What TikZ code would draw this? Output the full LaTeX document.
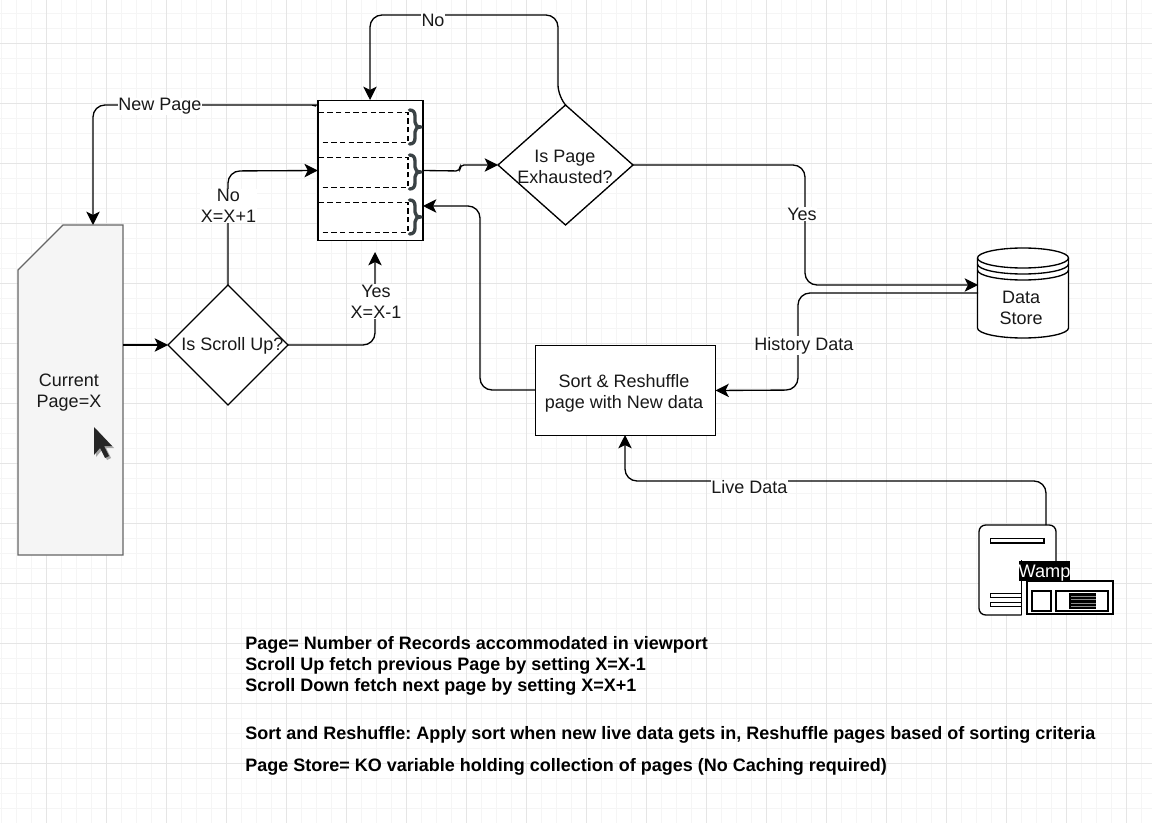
\documentclass[tikz,border=0pt]{standalone}
\usepackage{fontspec}
\setmainfont{Liberation Sans}
\usetikzlibrary{shapes.geometric,arrows.meta}
\definecolor{bracegrey}{HTML}{3A4245}
\frenchspacing
\tikzset{
  x=0.75pt,y=-0.75pt,
  gridminor/.style={draw=black!4,line width=0.7pt},
  gridmajor/.style={draw=black!10,line width=0.7pt},
  box/.style={draw=black,line width=1.05pt,fill=white,inner sep=0pt,outer sep=0pt},
  dashbox/.style={draw=black,line width=0.8pt,dash pattern=on 4pt off 2.5pt},
  dia/.style={diamond,draw=black,line width=1pt,fill=white,inner sep=0pt,outer sep=0pt,aspect=1},
  txt/.style={font=\fontsize{13.5}{15.9}\selectfont,align=center,inner sep=0pt,text=black!90},
  lab/.style={txt,fill=white,inner xsep=0.5pt,inner ysep=0.5pt},
  note/.style={font=\fontsize{13.5}{15.9}\selectfont\bfseries,anchor=west,inner sep=0pt,text=black},
  conn/.style={draw=black,line width=1pt,rounded corners=9pt,-{Stealth[length=10pt,width=10pt,inset=2.5pt]}},
  iconline/.style={draw=black,line width=1pt},
  bracepic/.pic={\draw[draw=bracegrey,line width=2.5pt,line join=round,line cap=round]
    (-6.5,-17) .. controls (-3,-17) and (-1,-15) .. (-1,-11) -- (-1,-5) .. controls (-1,-2) and (1,0) .. (5,0)
    .. controls (1,0) and (-1,2) .. (-1,5) -- (-1,11) .. controls (-1,15) and (-3,17) .. (-6.5,17);},
}
\begin{document}
\begin{tikzpicture}
\useasboundingbox (0,0) rectangle (1152,823);
\fill[white] (0,0) rectangle (1152,823);
% grid
\foreach \g in {1,16,...,1141}{\draw[gridminor] (\g,0) -- (\g,823);}
\foreach \g in {13,28,...,823}{\draw[gridminor] (0,\g) -- (1152,\g);}
\foreach \g in {46,106,...,1141}{\draw[gridmajor] (\g,0) -- (\g,823);}
\foreach \g in {43,103,...,823}{\draw[gridmajor] (0,\g) -- (1152,\g);}
% current page
\draw[draw=black!60,fill=black!4,line width=1pt] (18,270) -- (63,225) -- (123,225) -- (123,555) -- (18,555) -- cycle;
\node[minimum width=78.75pt,minimum height=247.5pt,inner sep=0pt,outer sep=0pt] (cur) at (70.5,390) {};
\node[txt] (curtxt) at (69,392.5) {Current\\Page=X};
% cursor
\fill[black!35] (96,429) -- (96,457) -- (102,450) -- (107,460) -- (111,458) -- (106,448) -- (114,448) -- cycle;
\fill[black!85] (94,427) -- (94,455) -- (100,448) -- (105,458) -- (109,456) -- (104,446) -- (112,446) -- cycle;
% store
\node[box,minimum width=79pt,minimum height=105pt] (store) at (370.5,170.5) {};
\draw[dashbox] (318,112.5) rectangle (408,142.5);
\draw[dashbox] (318,157.5) rectangle (408,187.5);
\draw[dashbox] (318,202.5) rectangle (408,232.5);
\pic at (416,127) {bracepic};
\pic at (416,172) {bracepic};
\pic at (416,217) {bracepic};
% diamonds
\node[dia,minimum width=90pt,minimum height=90pt] (scroll) at (228,345) {};
\node[txt] (scrolltxt) at (232.5,346) {Is Scroll Up?};
\node[dia,aspect=1.125,minimum width=101.25pt,minimum height=90pt] (exh) at (565.5,165) {};
\node[txt] (exhtxt) at (565,166.5) {Is Page\\Exhausted?};
% sort
\node[box,minimum width=135pt,minimum height=67.5pt] (sort) at (625.5,390.5) {};
\node[txt] (sorttxt) at (624,393) {Sort \& Reshuffle\\page with New data};
% data store
\node[minimum width=68pt,minimum height=67.5pt,inner sep=0pt,outer sep=0pt] (data) at (1023,293) {};
\draw[iconline,fill=white] (977.5,258) .. controls (977.5,252.5) and (997.9,248) .. (1023,248)
  .. controls (1048.1,248) and (1068.5,252.5) .. (1068.5,258) -- (1068.5,328)
  .. controls (1068.5,333.5) and (1048.1,338) .. (1023,338)
  .. controls (997.9,338) and (977.5,333.5) .. (977.5,328) -- cycle;
\foreach \g in {258,264,270}{
  \draw[iconline] (977.5,\g) .. controls (977.5,\g+5.5) and (997.9,\g+10) .. (1023,\g+10)
    .. controls (1048.1,\g+10) and (1068.5,\g+5.5) .. (1068.5,\g);}
\node[txt] (datatxt) at (1021,307.5) {Data\\Store};
% wamp icon
\draw[iconline,fill=white,rounded corners=5pt] (1021.5,615) -- (979,615) -- (979,525) -- (1056,525) -- (1056,585);
\draw[iconline] (1021.5,615) -- (1021.5,560);
\draw[iconline] (990.5,538.5) rectangle (1044,543);
\draw[iconline] (990.5,593.5) rectangle (1021.5,597.5);
\draw[iconline] (990.5,602.5) rectangle (1021.5,606.5);
\draw[iconline,fill=white] (1027,581) rectangle (1113,614);
\draw[iconline] (1032,591) rectangle (1051,611);
\draw[iconline] (1056,591) rectangle (1108,611);
\fill[black] (1069,593) rectangle (1096,609);
\foreach \g in {596,599.5,603,606.5}{\draw[draw=black!45,line width=0.6pt] (1071,\g) -- (1096,\g);}
\node[font=\fontsize{13.6}{15.9}\selectfont,text=white,fill=black,minimum width=38.25pt,minimum height=15pt,inner sep=0pt,outer sep=0pt,text depth=0pt] (wamp) at (1044.5,571) {Wamp};
% helper coordinates
\coordinate (storeTL) at (316,106);
\coordinate (curTop) at (93,225);
\coordinate (newCorner) at (93,105);
\coordinate (yesEnd) at (375,252);
\coordinate (yesCorner) at (375,345);
\coordinate (storeR) at (423,206);
\coordinate (sortCorner) at (480,390);
\coordinate (topR) at (558,15);
\coordinate (topL) at (370,15);
\coordinate (storeTop) at (370,100);
\coordinate (dsIn) at (978,285);
\coordinate (dsOut) at (978,293);
\coordinate (wampTop) at (1046,525);
\coordinate (sortBottom) at (625,435);
% connectors
\draw[conn] (storeTL) .. controls (312,105) and (310,105) .. (305,105) -- (newCorner) -- (curTop);
\draw[conn] (cur.east |- scroll.west) -- (scroll.west);
\draw[conn] (scroll.north) -- (228,171) -- (store.west);
\draw[conn] (scroll.east) -- (yesCorner) -- (yesEnd);
\draw[conn,rounded corners=3pt] (store.east) -- (460,171) -- (460,165) -- (exh.west);
\draw[conn] (sort.west |- sortCorner) -- (sortCorner) -- (480,206) -- (storeR);
\draw[conn] (exh.north) -- (558,97) -- (topR) -- (topL) -- (storeTop);
\draw[conn] (exh.east) -- (805,165) -- (805,285) -- (dsIn);
\draw[conn] (dsOut) -- (798,293) -- (798,390) -- (sort.east);
\draw[conn] (wampTop) -- (1046,481) -- (625,481) -- (sortBottom);
% connector labels
\node[lab] (l1) at (160,106.5) {New Page};
\node[lab] (l2) at (228.5,206) {No\\X=X+1};
\node[lab] (l3) at (376,301.5) {Yes\\X=X-1};
\node[lab] (l4) at (433,20) {No};
\node[lab] (l5) at (802,214) {Yes};
\node[lab] (l6) at (804,345.5) {History Data};
\node[lab] (l7) at (749.5,487) {Live Data};
% notes
\node[note] (n1) at (245,645) {Page= Number of Records accommodated in viewport};
\node[note] (n2) at (245,666) {Scroll Up fetch previous Page by setting X=X-1};
\node[note] (n3) at (245,687) {Scroll Down fetch next page by setting X=X+1};
\node[note] (n4) at (245,735) {Sort and Reshuffle: Apply sort when new live data gets in, Reshuffle pages based of sorting criteria};
\node[note] (n5) at (245,767) {Page Store= KO variable holding collection of pages (No Caching required)};
\end{tikzpicture}
\end{document}
